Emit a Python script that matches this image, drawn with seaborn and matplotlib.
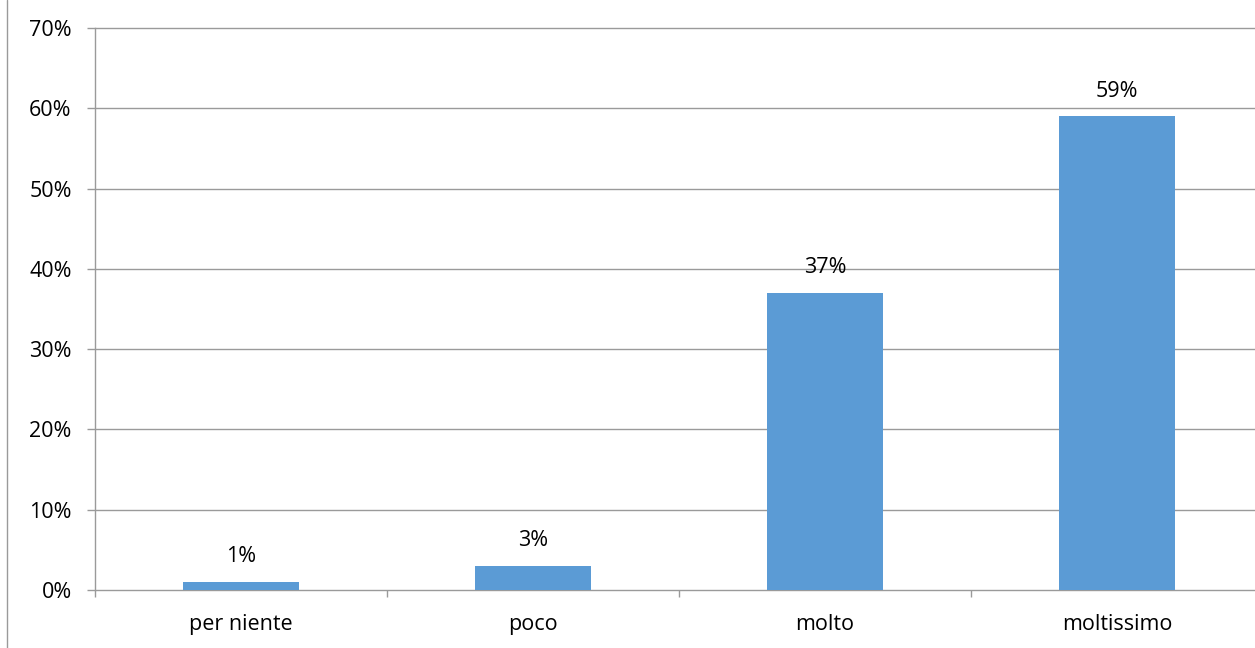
import matplotlib
matplotlib.use("Agg")
import matplotlib.pyplot as plt
import seaborn as sns
import pandas as pd
from matplotlib.lines import Line2D
from matplotlib.ticker import FixedLocator, PercentFormatter

# dati
categorie = ["per niente", "poco", "molto", "moltissimo"]
valori = [1, 3, 37, 59]
etichette = ["1%", "3%", "37%", "59%"]

sns.set_theme(style="white")
plt.rcParams["font.family"] = ["Open Sans", "DejaVu Sans"]

df = pd.DataFrame({"categoria": categorie, "valore": valori})

fig = plt.figure(figsize=(12.55, 6.48), dpi=100)
ax = fig.add_axes([0.0757, 0.0895, 0.9307, 0.8673])

sns.barplot(data=df, x="categoria", y="valore", color="#5B9BD5", width=0.4,
            saturation=1, linewidth=0, ax=ax, zorder=3)

ax.set_ylim(0, 70)
ax.set_xlim(-0.5, 3.5)
ax.set_yticks(range(0, 71, 10))
ax.yaxis.set_major_formatter(PercentFormatter(decimals=0))
ax.grid(axis="y", color="#9a9a9a", linewidth=1, zorder=0)
for gl in ax.get_ygridlines():
    gl.set_clip_on(False)
ax.set_xlabel("")
ax.set_ylabel("")

for s in ["top", "right", "bottom"]:
    ax.spines[s].set_visible(False)
ax.spines["left"].set_color("#9a9a9a")
ax.spines["left"].set_linewidth(1)

ax.tick_params(axis="y", length=5.8, color="#9a9a9a", width=1, labelsize=15.5,
               labelcolor="black", left=True, pad=11)
ax.tick_params(axis="x", which="major", length=0, labelsize=15.5, labelcolor="black", pad=17)
ax.xaxis.set_minor_locator(FixedLocator([-0.5, 0.5, 1.5, 2.5]))
ax.tick_params(axis="x", which="minor", length=5, color="#9a9a9a", width=1, bottom=True)

# etichette sopra le barre
for i, (v, t) in enumerate(zip(valori, etichette)):
    ax.annotate(t, (i, v), xytext=(0, 10.5), textcoords="offset points",
                ha="center", va="bottom", fontsize=15.5, color="black")

# bordo sinistro del grafico
fig.add_artist(Line2D([7 / 1255, 7 / 1255], [0, 1], color="#9a9a9a", linewidth=1,
                      transform=fig.transFigure))

fig.savefig("out.png", dpi=100)
